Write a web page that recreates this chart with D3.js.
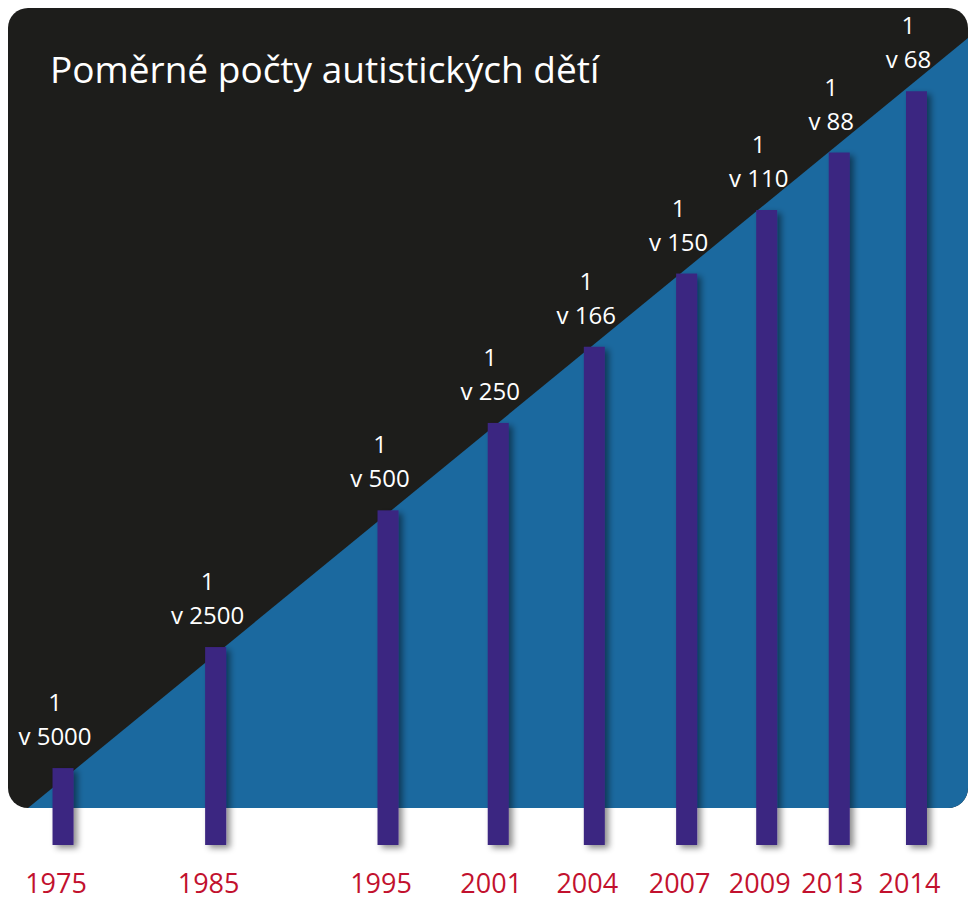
<!DOCTYPE html>
<html>
<head>
<meta charset="utf-8">
<script src="https://cdn.jsdelivr.net/npm/d3@7"></script>
<style>
  body { margin: 0; background: #ffffff; }
  svg { display: block; font-family: "Open Sans", "Noto Sans", sans-serif; }
</style>
</head>
<body>
<div id="chart"></div>
<script>
var years = ["1975", "1985", "1995", "2001", "2004", "2007", "2009", "2013", "2014"];
var oneIn = [5000, 2500, 500, 250, 166, 150, 110, 88, 68];
// bar height as drawn (index, roughly 100 for the tallest bar)
var level = [10.3, 26.5, 44.8, 56.5, 66.7, 76.5, 85.0, 92.7, 100.9];

var width = 970, height = 903;
var panel = { left: 8, top: 8, right: 968, bottom: 808, r: 20 };

var svg = d3.select("#chart")
    .append("svg")
    .attr("width", width)
    .attr("height", height);

var defs = svg.append("defs");

defs.append("clipPath")
    .attr("id", "panel-clip")
    .append("rect")
    .attr("x", panel.left)
    .attr("y", panel.top)
    .attr("width", panel.right - panel.left)
    .attr("height", panel.bottom - panel.top)
    .attr("rx", panel.r)
    .attr("ry", panel.r);

var shadow = defs.append("filter")
    .attr("id", "bar-shadow")
    .attr("x", "-50%").attr("y", "-10%")
    .attr("width", "220%").attr("height", "130%");
shadow.append("feDropShadow")
    .attr("dx", 4)
    .attr("dy", 3)
    .attr("stdDeviation", 3)
    .attr("flood-color", "#000")
    .attr("flood-opacity", 0.45);

// background: black panel, blue triangle under the diagonal
var bg = svg.append("g").attr("clip-path", "url(#panel-clip)");

bg.append("rect")
    .attr("x", panel.left)
    .attr("y", panel.top)
    .attr("width", panel.right - panel.left)
    .attr("height", panel.bottom - panel.top)
    .attr("fill", "#1d1d1b");

bg.append("path")
    .attr("d", "M 28 " + panel.bottom + " L " + panel.right + " 38 L " + panel.right + " " + panel.bottom + " Z")
    .attr("fill", "#1b699f");

// Title
svg.append("text")
    .attr("x", 50)
    .attr("y", 83)
    .attr("font-size", "37px")
    .attr("fill", "#ffffff")
    .text("Poměrné počty autistických dětí");

// scales
var barBottom = 845, barWidth = 21;

var y = d3.scaleLinear()
    .domain([0, 100])
    .range([barBottom, 98]);

// bar tops follow the diagonal, so horizontal position grows with the level
var x = d3.scaleLinear()
    .domain([0, 100])
    .range([-34, 908]);

var bars = svg.append("g");

bars.selectAll("rect")
    .data(level)
    .enter().append("rect")
    .attr("x", function(d){ return x(d) - barWidth / 2; })
    .attr("y", function(d){ return y(d); })
    .attr("width", barWidth)
    .attr("height", function(d){ return barBottom - y(d); })
    .attr("fill", "#3b2581")
    .attr("filter", "url(#bar-shadow)");

// ratio labels
var labels = svg.append("g")
    .attr("fill", "#ffffff")
    .attr("font-size", "24px")
    .attr("text-anchor", "middle");

level.forEach(function(d, i){
    var cx = x(d) - 8;
    labels.append("text")
        .attr("x", cx)
        .attr("y", y(d) - 57)
        .text("1");
    labels.append("text")
        .attr("x", cx)
        .attr("y", y(d) - 23)
        .text("v " + oneIn[i]);
});

// year labels
svg.append("g")
    .selectAll("text")
    .data(years)
    .enter().append("text")
    .attr("x", function(d, i){ return x(level[i]) - 7; })
    .attr("y", 893)
    .attr("text-anchor", "middle")
    .attr("font-size", "27px")
    .attr("fill", "#c2112e")
    .text(function(d){ return d; });
</script>
</body>
</html>
